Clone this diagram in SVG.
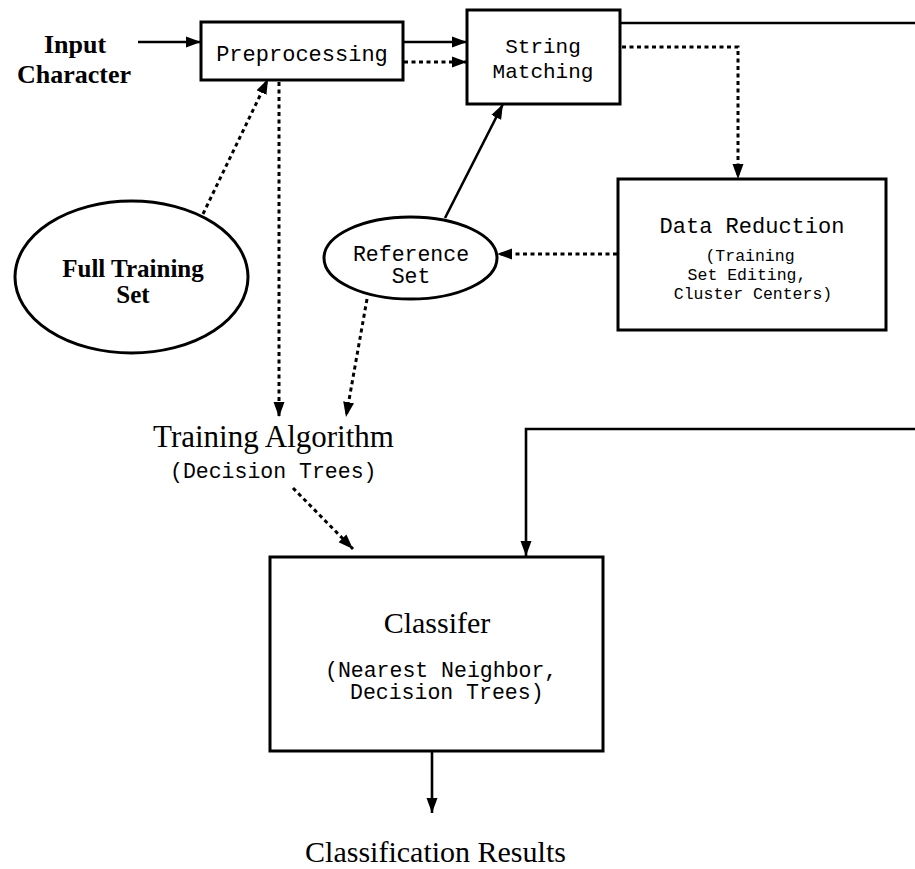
<svg xmlns="http://www.w3.org/2000/svg" width="915" height="869" viewBox="0 0 915 869">
<style>
.box{fill:#fff;stroke:#000;stroke-width:3}
.ell{fill:#fff;stroke:#000;stroke-width:3}
.solid{fill:none;stroke:#000;stroke-width:2.6}
.dot{fill:none;stroke:#000;stroke-width:3;stroke-dasharray:4 3.5}
.mono{font-family:"Liberation Mono","Courier New",monospace;fill:#000}
.serif{font-family:"Liberation Serif","Times New Roman",serif;fill:#000}
.bold{font-weight:bold}
</style>
<defs>
<marker id="ah" markerUnits="userSpaceOnUse" markerWidth="16" markerHeight="12" refX="15" refY="5.5" orient="auto" viewBox="0 0 16 11">
<path d="M0,0 L15,5.5 L0,11 z" fill="#000" stroke="none"/>
</marker>
</defs>
<rect width="915" height="869" fill="#fff"/>
<g id="connectors">
<line class="solid" x1="138" y1="42" x2="201" y2="42" marker-end="url(#ah)"/>
<line class="solid" x1="403" y1="42" x2="467" y2="42" marker-end="url(#ah)"/>
<line class="dot" x1="404" y1="62" x2="467" y2="62" marker-end="url(#ah)"/>
<path class="dot" d="M622,47 H738 V179" marker-end="url(#ah)"/>
<line class="dot" x1="617" y1="254" x2="497" y2="254" marker-end="url(#ah)"/>
<line class="solid" x1="445" y1="218" x2="503" y2="104" marker-end="url(#ah)"/>
<line class="dot" x1="203" y1="214" x2="268" y2="79" marker-end="url(#ah)"/>
<line class="dot" x1="279" y1="82" x2="279" y2="417" marker-end="url(#ah)"/>
<line class="dot" x1="367" y1="299" x2="346" y2="417" marker-end="url(#ah)"/>
<line class="dot" x1="293" y1="488" x2="353" y2="549" marker-end="url(#ah)"/>
<path class="solid" d="M620,23 H920 V429 H526 V556" marker-end="url(#ah)"/>
<line class="solid" x1="432" y1="751" x2="432" y2="813" marker-end="url(#ah)"/>
</g>
<g id="input">
<text class="serif bold" x="75" y="53" font-size="26" text-anchor="middle">Input</text>
<text class="serif bold" x="74" y="83" font-size="26" text-anchor="middle">Character</text>
</g>
<g id="preprocessing">
<rect class="box" x="201" y="22" width="202" height="58"/>
<text class="mono" x="302" y="61" font-size="22" text-anchor="middle">Preprocessing</text>
</g>
<g id="string-matching">
<rect class="box" x="467" y="10" width="153" height="94"/>
<text class="mono" x="543" y="53" font-size="21" text-anchor="middle">String</text>
<text class="mono" x="543" y="78" font-size="21" text-anchor="middle">Matching</text>
</g>
<g id="data-reduction">
<rect class="box" x="618" y="179" width="268" height="151"/>
<text class="mono" x="752" y="233" font-size="22" text-anchor="middle">Data Reduction</text>
<text class="mono" x="750" y="261" font-size="16.5" text-anchor="middle">(Training</text>
<text class="mono" x="747" y="280" font-size="16.5" text-anchor="middle">Set Editing,</text>
<text class="mono" x="753" y="299" font-size="16.5" text-anchor="middle">Cluster Centers)</text>
</g>
<g id="full-training-set">
<ellipse class="ell" cx="131.5" cy="277" rx="116.5" ry="76"/>
<text class="serif bold" x="133" y="277" font-size="25" text-anchor="middle">Full Training</text>
<text class="serif bold" x="133" y="303" font-size="25" text-anchor="middle">Set</text>
</g>
<g id="reference-set">
<ellipse class="ell" cx="410.5" cy="258" rx="86.5" ry="41"/>
<text class="mono" x="411" y="261" font-size="21.5" text-anchor="middle">Reference</text>
<text class="mono" x="411" y="283" font-size="21.5" text-anchor="middle">Set</text>
</g>
<g id="training-algorithm">
<text class="serif" x="273.5" y="447" font-size="31" text-anchor="middle">Training Algorithm</text>
<text class="mono" x="170" y="478" font-size="21.5">(Decision Trees)</text>
</g>
<g id="classifier">
<rect class="box" x="270" y="557" width="333" height="194"/>
<text class="serif" x="437" y="633" font-size="30" text-anchor="middle">Classifer</text>
<text class="mono" x="325" y="677" font-size="21.5">(Nearest Neighbor,</text>
<text class="mono" x="350" y="699" font-size="21.5">Decision Trees)</text>
</g>
<g id="results">
<text class="serif" x="435.5" y="862" font-size="30" text-anchor="middle">Classification Results</text>
</g>
</svg>
